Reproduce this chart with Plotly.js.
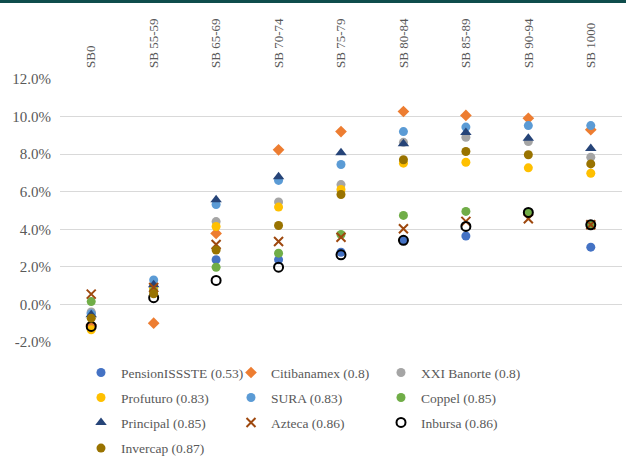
<!DOCTYPE html>
<html>
<head>
<meta charset="utf-8">
<script src="https://cdn.plot.ly/plotly-3.0.1.min.js"></script>
<style>
  html, body { margin: 0; padding: 0; background: #fff; }
  #wrap { position: relative; width: 626px; height: 456px; }
  #topbar { position: absolute; left: 0; top: 0; width: 626px; height: 3px; background: #0e4d4c; z-index: 5; }
  #chart { width: 626px; height: 456px; }
</style>
</head>
<body>
<div id="wrap">
  <div id="topbar"></div>
  <div id="chart"></div>
</div>
<script>
// Return buckets (percent) per fund, one value per category
const categories = ['SB0', 'SB 55-59', 'SB 65-69', 'SB 70-74', 'SB 75-79', 'SB 80-84', 'SB 85-89', 'SB 90-94', 'SB 1000'];

const pensionIssste = [-0.45, 0.95, 2.38, 2.38, 2.78, 3.40, 3.64, 4.85, 3.05];
const citibanamex   = [-1.10, -1.00, 3.78, 8.23, 9.20, 10.27, 10.06, 9.91, 9.30];
const xxiBanorte    = [-0.40, 0.80, 4.41, 5.45, 6.38, 8.63, 8.90, 8.67, 7.84];
const profuturo     = [-1.35, 0.85, 4.15, 5.18, 6.12, 7.52, 7.57, 7.27, 6.98];
const sura          = [-0.50, 1.30, 5.32, 6.60, 7.45, 9.20, 9.44, 9.52, 9.52];
const coppel        = [0.15, 0.70, 1.98, 2.73, 3.72, 4.74, 4.95, 4.90, 4.24];
const principal     = [-0.55, 1.05, 5.57, 6.80, 8.07, 8.55, 9.15, 8.85, 8.30];
const azteca        = [0.55, 0.90, 3.19, 3.35, 3.58, 4.03, 4.42, 4.56, 4.24];
const inbursa       = [-1.17, 0.36, 1.28, 1.98, 2.64, 3.41, 4.15, 4.90, 4.24];
const invercap      = [-0.73, 0.57, 2.90, 4.20, 5.85, 7.70, 8.14, 7.97, 7.48];

// y-axis ticks
const yTickVals = [-2, 0, 2, 4, 6, 8, 10, 12];
const yTickText = ['-2.0%', '0.0%', '2.0%', '4.0%', '6.0%', '8.0%', '10.0%', '12.0%'];

const seriesNames = [
  'PensionISSSTE (0.53)', 'Citibanamex (0.8)', 'XXI Banorte (0.8)',
  'Profuturo (0.83)', 'SURA (0.83)', 'Coppel (0.85)',
  'Principal (0.85)', 'Azteca (0.86)', 'Inbursa (0.86)',
  'Invercap (0.87)'
];
const seriesValues = [pensionIssste, citibanamex, xxiBanorte, profuturo, sura, coppel, principal, azteca, inbursa, invercap];

const markerStyles = [
  { symbol: 'circle', color: '#4472C4', size: 9 },
  { symbol: 'diamond', color: '#ED7D31', size: 9 },
  { symbol: 'circle', color: '#A5A5A5', size: 9 },
  { symbol: 'circle', color: '#FFC000', size: 9 },
  { symbol: 'circle', color: '#5B9BD5', size: 9 },
  { symbol: 'circle', color: '#70AD47', size: 9 },
  { symbol: 'triangle-up', color: '#264478', size: 10 },
  { symbol: 'x-thin-open', color: '#9E480E', size: 9, line: { color: '#9E480E', width: 2 } },
  { symbol: 'circle-open', color: '#000000', size: 9, line: { color: '#000000', width: 2 } },
  { symbol: 'circle', color: '#997300', size: 9 }
];

// legend rows of three entries each
const legendIds = ['legend', 'legend', 'legend', 'legend2', 'legend2', 'legend2', 'legend3', 'legend3', 'legend3', 'legend4'];

const traces = seriesValues.map((vals, i) => ({
  type: 'scatter',
  mode: 'markers',
  name: seriesNames[i],
  x: categories,
  y: vals,
  legend: legendIds[i],
  marker: Object.assign({ line: { width: 0 } }, markerStyles[i]),
  hoverinfo: 'skip'
}));

const textColor = '#595959';
const serif = '"Liberation Serif", "Times New Roman", serif';
const font = { family: serif, size: 14, color: textColor };

function legendRow(yPx) {
  return {
    orientation: 'h',
    xref: 'container', yref: 'container',
    x: 81 / 626, y: 1 - yPx / 456,
    xanchor: 'left', yanchor: 'middle',
    entrywidth: 105, entrywidthmode: 'pixels',
    itemwidth: 30,
    bgcolor: 'rgba(0,0,0,0)',
    borderwidth: 0,
    font: { family: serif, size: 13.5, color: textColor },
    traceorder: 'normal'
  };
}

const layout = {
  width: 626,
  height: 456,
  margin: { l: 60, r: 4, t: 79, b: 114, autoexpand: false },
  paper_bgcolor: '#ffffff',
  plot_bgcolor: '#ffffff',
  font: font,
  showlegend: true,
  xaxis: {
    type: 'category',
    side: 'top',
    tickangle: -90,
    showgrid: false,
    zeroline: false,
    showline: false,
    ticks: '',
    ticklabelstandoff: 10,
    tickfont: { family: serif, size: 13, color: textColor },
    range: [-0.5, categories.length - 0.5]
  },
  yaxis: {
    range: [-2, 12],
    tickmode: 'array',
    tickvals: yTickVals,
    ticktext: yTickText,
    showgrid: true,
    gridcolor: '#d9d9d9',
    gridwidth: 1,
    zeroline: false,
    showline: false,
    ticks: '',
    ticklabelstandoff: 8,
    tickfont: { family: serif, size: 15, color: textColor }
  },
  legend: legendRow(372.7),
  legend2: legendRow(397.7),
  legend3: legendRow(422.7),
  legend4: legendRow(448.3)
};

Plotly.newPlot('chart', traces, layout, { staticPlot: true, displayModeBar: false });
</script>
</body>
</html>
